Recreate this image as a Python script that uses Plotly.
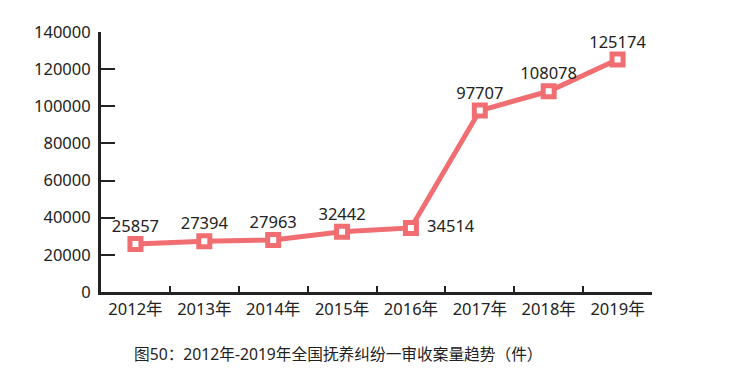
import plotly.graph_objects as go

years = ["2012年", "2013年", "2014年", "2015年", "2016年", "2017年", "2018年", "2019年"]
cases = [25857, 27394, 27963, 32442, 34514, 97707, 108078, 125174]
label_pos = ["top center", "top center", "top center", "top center", "middle right",
             "top center", "top center", "top center"]
title_text = "图50：2012年-2019年全国抚养纠纷一审收案量趋势（件）"

FONT = "Noto Sans, Noto Sans CJK SC, sans-serif"
RED = "#F06E71"
DARK = "#222222"

labels = [("\u2002" + str(v)) if p == "middle right" else str(v)
          for v, p in zip(cases, label_pos)]

fig = go.Figure()
fig.add_trace(go.Scatter(
    x=years, y=cases,
    mode="lines+markers+text",
    line=dict(color=RED, width=5),
    marker=dict(symbol="square", size=11, color="white", line=dict(color=RED, width=5)),
    text=labels,
    textposition=label_pos,
    textfont=dict(family=FONT, size=16.5, color=DARK),
    cliponaxis=False,
    showlegend=False,
))

L, T, W, H = 93, 22, 551, 262
fig.update_layout(
    width=747, height=380,
    margin=dict(l=L, r=747 - L - W, t=T, b=380 - T - H),
    paper_bgcolor="white", plot_bgcolor="white",
    font=dict(family=FONT, size=16.5, color=DARK),
    xaxis=dict(
        type="category", tickson="boundaries", ticks="inside", ticklen=6, tickwidth=2,
        tickcolor=DARK, showline=True, linecolor=DARK, linewidth=3, showgrid=False,
        zeroline=False, range=[-0.5, 7.5],
    ),
    yaxis=dict(
        range=[0, 140000], dtick=20000, ticks="inside", ticklen=14, tickwidth=2,
        tickcolor=DARK, showline=True, linecolor=DARK, linewidth=3, showgrid=False,
        zeroline=False, tickformat="d", ticklabelstandoff=4,
    ),
    annotations=[dict(
        text=title_text, xref="paper", yref="paper", x=(330.5 - L) / W, y=-0.24,
        xanchor="center", yanchor="middle", showarrow=False,
        font=dict(family=FONT, size=15.7, color=DARK),
    )],
)

fig.write_html("out.html")
